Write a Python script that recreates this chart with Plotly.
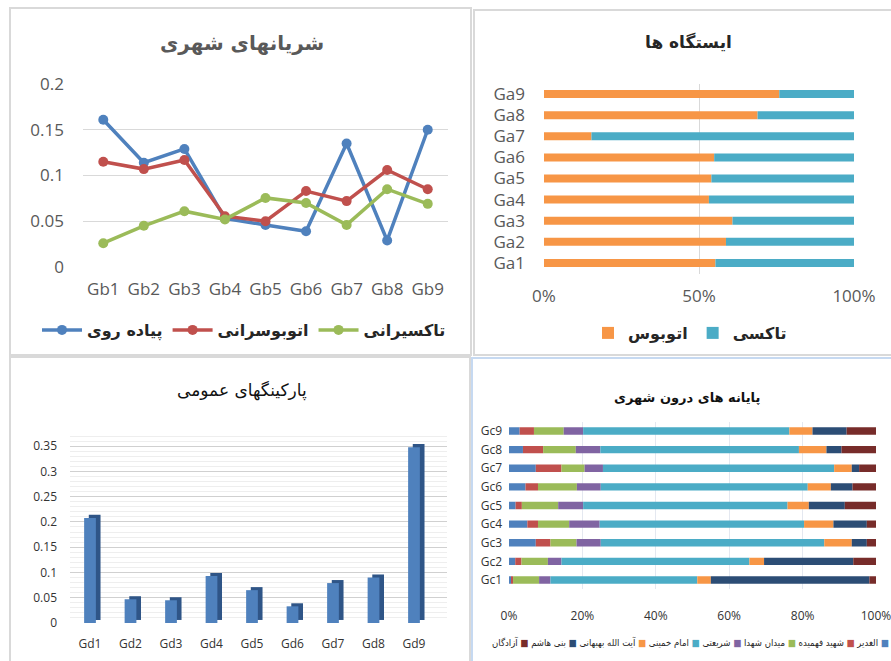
import plotly.graph_objects as go
import numpy as np

W, H = 891, 661
def px(x): return x / W
def py(y): return 1 - y / H

FA = "DejaVu Sans, sans-serif"
TK = "Open Sans, sans-serif"
NARROW = "Liberation Sans Narrow, Open Sans, sans-serif"

# ---------------- Panel 1: urban arteries (line chart) ----------------
gb_cats = ["Gb1", "Gb2", "Gb3", "Gb4", "Gb5", "Gb6", "Gb7", "Gb8", "Gb9"]
walk = [0.161, 0.114, 0.129, 0.053, 0.046, 0.039, 0.135, 0.029, 0.150]
bus_line = [0.115, 0.107, 0.117, 0.0555, 0.050, 0.083, 0.072, 0.106, 0.085]
taxi_line = [0.026, 0.045, 0.061, 0.052, 0.0755, 0.070, 0.046, 0.085, 0.069]
line_names = ["پیاده روی", "اتوبوسرانی", "تاکسیرانی"]
line_colors = ["#4F81BD", "#C0504D", "#9BBB59"]

# ---------------- Panel 2: stations (100% stacked bars) ----------------
ga_cats = ["Ga1", "Ga2", "Ga3", "Ga4", "Ga5", "Ga6", "Ga7", "Ga8", "Ga9"]
ga_bus = [55.3, 58.7, 60.8, 53.2, 54.0, 54.9, 15.3, 68.9, 75.9]
ga_taxi = [44.7, 41.3, 39.2, 46.8, 46.0, 45.1, 84.7, 31.1, 24.1]
ga_names = ["اتوبوس", "تاکسی"]
ga_colors = ["#F79646", "#4BACC6"]

# ---------------- Panel 3: public parkings (3D-like columns) ----------------
gd_cats = ["Gd1", "Gd2", "Gd3", "Gd4", "Gd5", "Gd6", "Gd7", "Gd8", "Gd9"]
gd_vals = [0.208, 0.047, 0.045, 0.093, 0.065, 0.033, 0.079, 0.090, 0.348]

# ---------------- Panel 4: intra-city terminals (100% stacked bars) ----------------
gc_cats = ["Gc1", "Gc2", "Gc3", "Gc4", "Gc5", "Gc6", "Gc7", "Gc8", "Gc9"]
alghadir   = [0.6, 1.7, 7.3, 5.0, 1.8, 4.5, 7.3, 3.8, 2.9]
fahmideh   = [0.5, 1.7, 4.0, 2.9, 1.7, 3.4, 7.0, 5.5, 3.9]
shohada    = [7.1, 7.2, 7.1, 8.5, 9.9, 10.6, 6.3, 8.9, 8.1]
shariati   = [3.1, 3.7, 6.6, 8.3, 6.8, 6.5, 5.0, 6.7, 5.3]
khomeini   = [40.0, 51.2, 60.9, 55.7, 55.7, 56.4, 63.0, 54.1, 56.2]
behbahani  = [3.7, 4.0, 7.5, 8.0, 5.8, 6.3, 4.8, 7.5, 6.3]
banihashem = [43.2, 24.3, 4.1, 9.1, 9.8, 5.9, 2.0, 4.1, 9.3]
azadegan   = [1.8, 6.2, 2.5, 2.5, 8.5, 6.4, 4.6, 9.4, 8.0]
gc_names = ["الغدیر", "شهید فهمیده", "میدان شهدا", "شریعتی", "امام خمینی",
            "آیت الله بهبهانی", "بنی هاشم", "آزادگان"]
gc_colors = ["#4F81BD", "#C0504D", "#9BBB59", "#8064A2", "#4BACC6",
             "#F79646", "#2C4D75", "#772C2A"]

fig = go.Figure()

# Panel 1 traces
for vals, name, col in zip([walk, bus_line, taxi_line], line_names, line_colors):
    fig.add_trace(go.Scatter(x=gb_cats, y=vals, name=name, mode="lines+markers",
                             line=dict(color=col, width=3.5),
                             marker=dict(color=col, size=10),
                             xaxis="x", yaxis="y", legend="legend"))

# Panel 2 traces
ga_series = np.array([ga_bus, ga_taxi], dtype=float)
ga_series = ga_series / ga_series.sum(axis=0) * 100
ga_base = np.vstack([np.zeros(len(ga_cats)), np.cumsum(ga_series, axis=0)[:-1]])
for vals, base, name, col in zip(ga_series, ga_base, ga_names, ga_colors):
    fig.add_trace(go.Bar(y=ga_cats, x=vals, base=base, orientation="h", name=name,
                         marker=dict(color=col, line=dict(width=0)), width=0.38,
                         xaxis="x2", yaxis="y2", legend="legend2"))

# Panel 3 traces (dark back face then front face)
fig.add_trace(go.Bar(x=gd_cats, y=gd_vals, base=0.006, width=0.29, offset=-0.03,
                     marker=dict(color="#2F5587", line=dict(width=0)),
                     showlegend=False, xaxis="x3", yaxis="y3"))
fig.add_trace(go.Bar(x=gd_cats, y=gd_vals, width=0.29, offset=-0.145,
                     marker=dict(color="#4F81BD", line=dict(width=0)),
                     showlegend=False, xaxis="x3", yaxis="y3"))

# Panel 4 traces
gc_series = np.array([alghadir, fahmideh, shohada, shariati, khomeini,
                      behbahani, banihashem, azadegan], dtype=float)
gc_series = gc_series / gc_series.sum(axis=0) * 100
gc_base = np.vstack([np.zeros(len(gc_cats)), np.cumsum(gc_series, axis=0)[:-1]])
for vals, base, name, col in zip(gc_series, gc_base, gc_names, gc_colors):
    fig.add_trace(go.Bar(y=gc_cats, x=vals, base=base, orientation="h", name=name,
                         marker=dict(color=col, line=dict(width=0)), width=0.4,
                         showlegend=False, xaxis="x4", yaxis="y4"))

tick_gray = "#595959"
grid = "#D9D9D9"

fig.update_layout(
    width=W, height=H, margin=dict(l=0, r=0, t=0, b=0, autoexpand=False),
    paper_bgcolor="white", plot_bgcolor="rgba(0,0,0,0)",
    barmode="overlay", showlegend=True,
    # Panel 1
    xaxis=dict(domain=[px(83), px(448)], anchor="y", range=[-0.5, 8.5],
               showgrid=False, zeroline=False, showline=False, ticks="",
               tickfont=dict(family=TK, size=17, color=tick_gray), ticklabelstandoff=10),
    yaxis=dict(domain=[py(267), py(84)], anchor="x", range=[0, 0.2], dtick=0.05,
               showgrid=True, gridcolor=grid, gridwidth=1, zeroline=False, showline=False,
               ticks="", tickfont=dict(family=TK, size=17, color=tick_gray), ticklabelstandoff=18),
    # Panel 2
    xaxis2=dict(domain=[px(544), px(854)], anchor="y2", range=[0, 100],
                dtick=50, ticksuffix="%", showgrid=True, gridcolor=grid,
                zeroline=False, showline=False, ticks="", ticklabeloverflow="allow",
                tickfont=dict(family=TK, size=17, color=tick_gray), ticklabelstandoff=10),
    yaxis2=dict(domain=[py(273.5), py(83.5)], anchor="x2", range=[-0.5, 8.5],
                showgrid=False, zeroline=False, showline=False, ticks="",
                tickfont=dict(family=TK, size=17, color=tick_gray), ticklabelstandoff=18),
    # Panel 3
    xaxis3=dict(domain=[px(70), px(447)], anchor="y3", range=[-0.494, 8.815],
                showgrid=False, zeroline=False, showline=False, ticks="",
                tickfont=dict(family=NARROW, size=12, color="#333333"), ticklabelstandoff=12),
    yaxis3=dict(domain=[py(623), py(435)], anchor="x3", range=[0, 0.372], dtick=0.05,
                showgrid=True, gridcolor="#D0D0D0", gridwidth=1, zeroline=False, showline=False,
                minor=dict(dtick=0.01, showgrid=True, gridcolor="#EEEEEE", gridwidth=1),
                ticks="", tickfont=dict(family=NARROW, size=12, color="#333333"), ticklabelstandoff=12),
    # Panel 4
    xaxis4=dict(domain=[px(509), px(876)], anchor="y4", range=[0, 100], dtick=20,
                ticksuffix="%", showgrid=True, gridcolor="#E4E8F0",
                zeroline=False, showline=False, ticks="", ticklabeloverflow="allow",
                tickfont=dict(family=NARROW, size=12, color="#333333"), ticklabelstandoff=18),
    yaxis4=dict(domain=[py(589.3), py(421.7)], anchor="x4", range=[-0.5, 8.5],
                showgrid=False, zeroline=False, showline=False, ticks="",
                tickfont=dict(family=NARROW, size=12, color="#333333"), ticklabelstandoff=6),
    legend=dict(orientation="h", x=px(244), xanchor="center", y=py(330), yanchor="middle",
                font=dict(family=FA, size=16, color="#262626", weight="bold"),
                bgcolor="rgba(0,0,0,0)", itemwidth=40),
    legend2=dict(orientation="h", x=px(690), xanchor="center", y=py(333), yanchor="middle",
                 font=dict(family=FA, size=16, color="#262626", weight="bold"),
                 bgcolor="rgba(0,0,0,0)"),
)

def title(text, x, y, size, color):
    fig.add_annotation(text=text, x=px(x), y=py(y), xref="paper", yref="paper",
                       xanchor="center", yanchor="middle", showarrow=False,
                       font=dict(family=FA, size=size, color=color))

title("<b>شریانهای شهری</b>", 242, 43, 20, "#595959")
title("<b>ایستگاه ها</b>", 688, 42, 17, "#262626")
title("پارکینگهای عمومی", 242, 390, 17, "#111111")
title("<b>پایانه های درون شهری</b>", 687, 397, 13, "#111111")

# Text legend for panel 4 (square to the right of each name, RTL order)
parts = []
for name, col in zip(gc_names, gc_colors):
    parts.append(f"<span style='color:{col}'>■</span> {name}")
legend4 = "\u200F" + " ".join(parts)
fig.add_annotation(text=legend4, x=px(690), y=py(642), xref="paper", yref="paper",
                   xanchor="center", yanchor="middle", showarrow=False,
                   font=dict(family="DejaVu Sans Condensed, DejaVu Sans, sans-serif",
                             size=9.5, color="#262626"))

# Panel borders
border = "#D9D9D9"
fig.add_shape(type="rect", xref="paper", yref="paper", x0=px(10), x1=px(471), y0=py(355), y1=py(8),
              line=dict(color=border, width=2), layer="below")
fig.add_shape(type="rect", xref="paper", yref="paper", x0=px(474), x1=px(900), y0=py(355), y1=py(10),
              line=dict(color=border, width=2), layer="below")
fig.add_shape(type="rect", xref="paper", yref="paper", x0=px(10), x1=px(470), y0=py(670), y1=py(357),
              line=dict(color=border, width=2), layer="below")
fig.add_shape(type="rect", xref="paper", yref="paper", x0=px(472), x1=px(900), y0=py(670), y1=py(358),
              line=dict(color="#C6D9F1", width=2), layer="below")

fig.write_html("out.html", config={"displayModeBar": False},
               post_script="document.body.style.margin='0px';")
